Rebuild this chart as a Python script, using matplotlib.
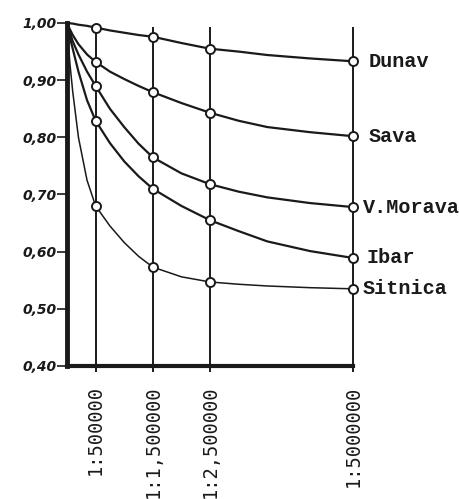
import numpy as np
import matplotlib
matplotlib.use('Agg')
import matplotlib.pyplot as plt

# razmjer karte u milionima (1:x)
x_read = [0, 0.05, 0.1, 0.2, 0.35, 0.5, 0.75, 1.0, 1.25, 1.5, 2.0, 2.5, 3.0, 3.5, 4.25, 5.0]
scales = [0.5, 1.5, 2.5, 5.0]
scale_labels = ['1:500000', '1:1,500000', '1:2,500000', '1:5000000']

rivers = ['Dunav', 'Sava', 'V.Morava', 'Ibar', 'Sitnica']
dunav = [1.0, 0.9995, 0.999, 0.997, 0.995, 0.992, 0.987, 0.983, 0.979, 0.976,
         0.965, 0.955, 0.950, 0.944, 0.938, 0.933]
sava = [1.0, 0.989, 0.979, 0.963, 0.945, 0.932, 0.915, 0.902, 0.890, 0.879,
        0.860, 0.843, 0.829, 0.818, 0.809, 0.802]
vmorava = [1.0, 0.984, 0.968, 0.945, 0.915, 0.89, 0.85, 0.818, 0.789, 0.765,
           0.737, 0.718, 0.705, 0.695, 0.685, 0.678]
ibar = [1.0, 0.975, 0.955, 0.915, 0.865, 0.829, 0.79, 0.758, 0.732, 0.710,
        0.680, 0.655, 0.636, 0.618, 0.601, 0.589]
sitnica = [1.0, 0.93, 0.88, 0.80, 0.725, 0.68, 0.645, 0.616, 0.592, 0.573,
           0.556, 0.547, 0.543, 0.540, 0.537, 0.535]

y_ticks = [0.40, 0.50, 0.60, 0.70, 0.80, 0.90, 1.00]
y_labels = ['0,40', '0,50', '0,60', '0,70', '0,80', '0,90', '1,00']

ink = '#1a1a1a'

fig = plt.figure(figsize=(4.59, 4.99), dpi=100)
ax = fig.add_axes([67 / 459, 1 - 366 / 499, 286 / 459, 343 / 499])
ax.set_xlim(0, 5)
ax.set_ylim(0.40, 1.00)

# vertikalne linije za razmjere
ax.vlines(scales, 0.39, 0.993, color=ink, lw=1.4, clip_on=False, zorder=2)

series = [dunav, sava, vmorava, ibar, sitnica]
offsets = [11, 11, 7, 10, 7]
x_arr = np.array(x_read)
mask = np.isin(x_arr, scales)
for name, vals, off in zip(rivers, series, offsets):
    v = np.array(vals)
    lw = 1.1 if name == 'Sitnica' else 1.6
    ax.plot(x_arr, v, color=ink, lw=lw, clip_on=False, zorder=3)
    ax.plot(x_arr[mask], v[mask], 'o', ms=6.5, mfc='white', mec=ink, mew=1.4,
            clip_on=False, zorder=4)
    ax.annotate(name, (5.0, v[-1]), xytext=(off, 0), textcoords='offset points',
                va='center', ha='left', fontsize=14.5, family='Liberation Mono',
                fontweight='bold', color=ink, annotation_clip=False)

for s in ['top', 'right']:
    ax.spines[s].set_visible(False)
ax.spines['left'].set_linewidth(3.5)
ax.spines['bottom'].set_linewidth(3.0)
ax.spines['left'].set_color(ink)
ax.spines['bottom'].set_color(ink)
ax.spines['bottom'].set_bounds(0, 5)

ax.set_yticks(y_ticks)
ax.set_yticklabels(y_labels, fontsize=10, fontweight='bold', fontstyle='italic', color=ink)
ax.tick_params(axis='y', direction='out', length=7, width=1.2, pad=0.5, color=ink)

ax.set_xticks(scales)
ax.set_xticklabels(scale_labels, rotation=90, fontsize=13.5, family='DejaVu Sans Mono',
                   color=ink, va='top', ha='center')
ax.tick_params(axis='x', length=0, pad=14)

fig.savefig('out.png', dpi=100, facecolor='white')
